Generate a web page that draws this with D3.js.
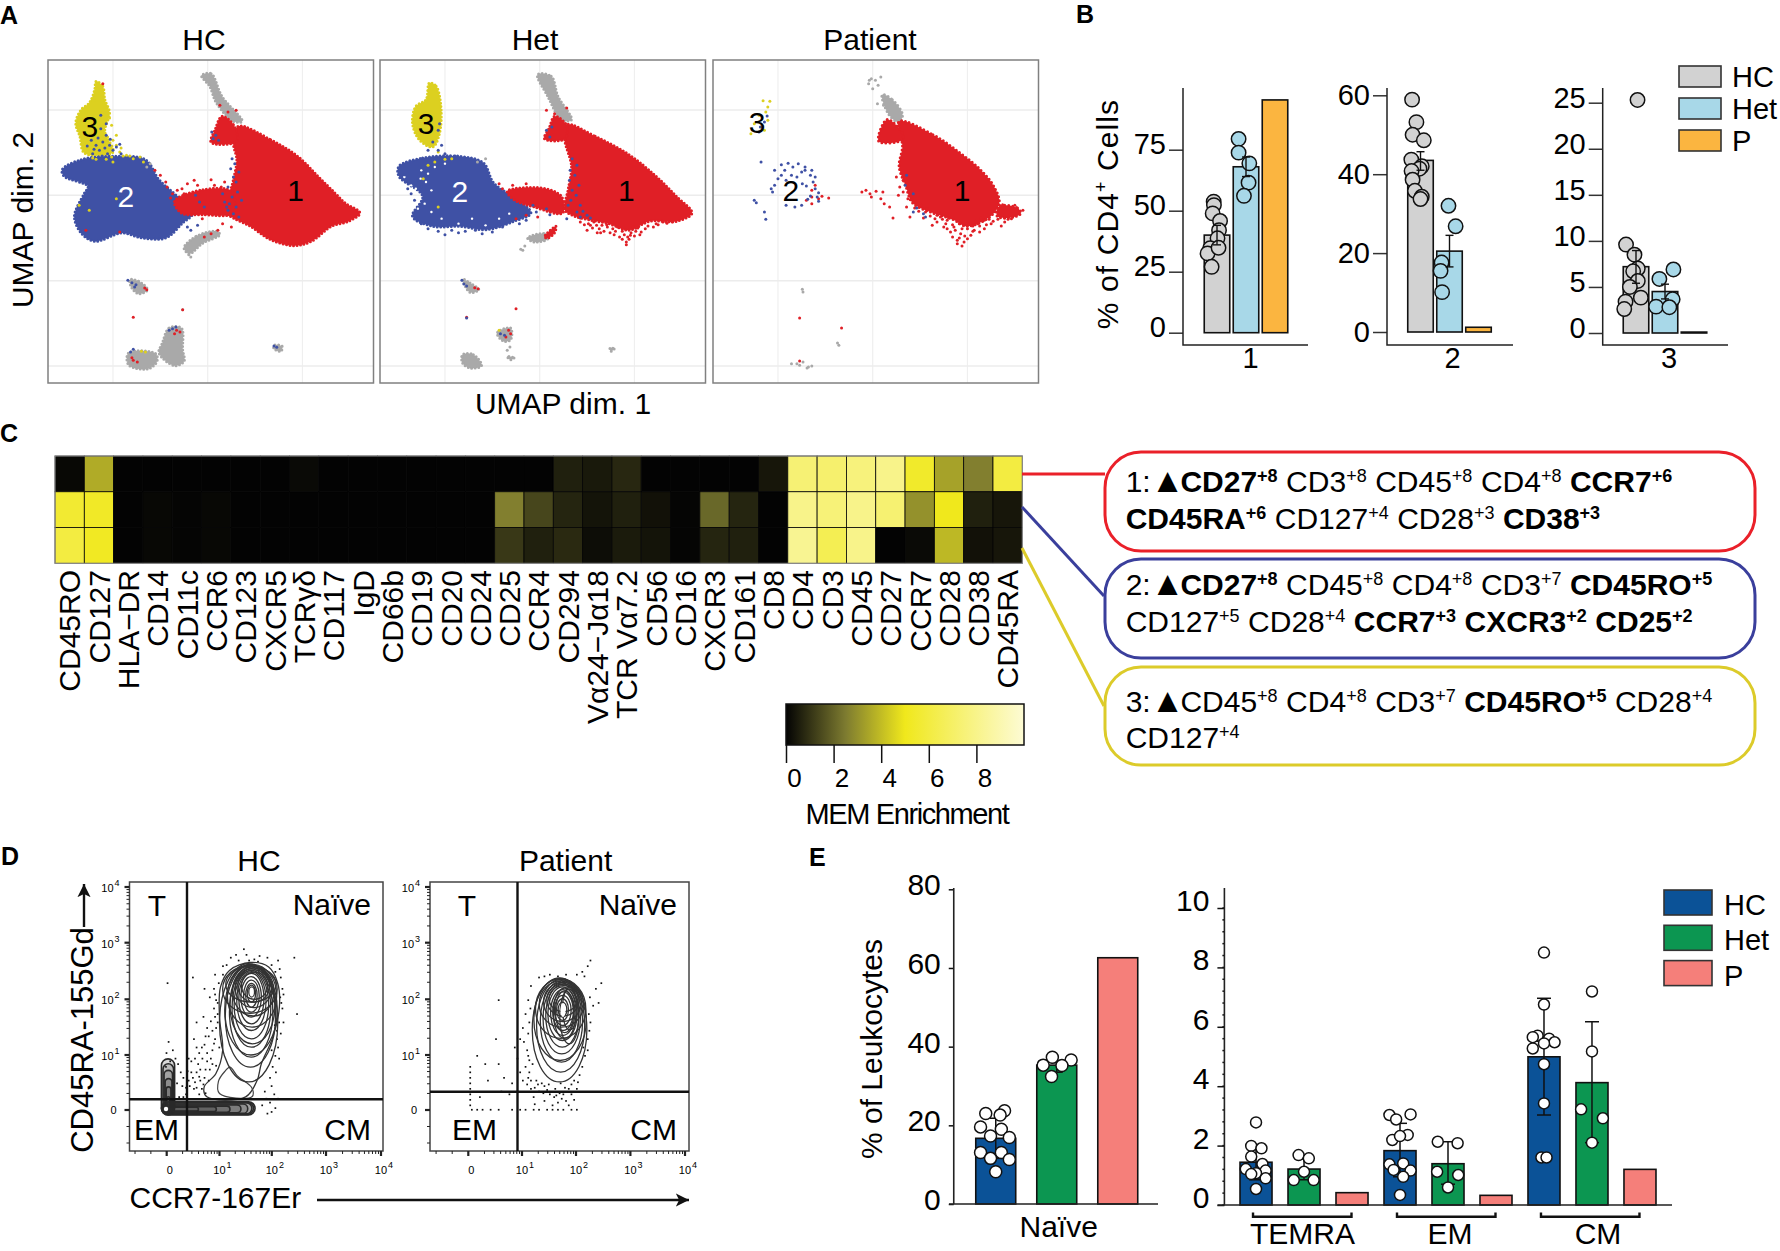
<!DOCTYPE html>
<html>
<head>
<meta charset="utf-8">
<script src="https://cdn.jsdelivr.net/npm/d3@7"></script>
<style>
  body { margin: 0; background: #fff; }
  text { font-family: "Liberation Sans", Arial, sans-serif; fill: #000; }
</style>
</head>
<body>
<svg id="fig" width="1780" height="1251"></svg>
<script>
// ---------- A: UMAP regions, units are arbitrary UMAP coordinates ----------
const umapTitles = ["HC", "Het", "Patient"];

const hcRed = [
  [[45,207],[93,167],[133,117],[163,57],[188,7],[203,-23],[225,-53],[208,-78],[183,-93],[153,-138],[128,-151],[93,-133],[63,-93],[38,-68],[28,-53],[33,7],[38,47],[43,107],[38,157]],
  [[21,237],[38,212],[43,162],[5,159],[11,197]],
  [[-49,-18],[-7,17],[35,12],[38,-53],[-7,-58],[-39,-53]]
];
const hcBlue = [[[-215,77],[-187,107],[-137,117],[-92,107],[-72,47],[-45,-3],[-22,-53],[-37,-83],[-62,-128],[-97,-128],[-127,-113],[-167,-138],[-187,-113],[-197,-63],[-182,7],[-177,27],[-212,57]]];
const hcYellow = [[[-165,342],[-155,327],[-152,287],[-145,247],[-152,192],[-140,130],[-182,127],[-189,177],[-195,217],[-187,257],[-175,277],[-167,317]]];
const hcGrey = [
  [[-9,359],[5,365],[21,297],[51,222],[38,222],[13,277],[3,327]],
  [[-67,-443],[-57,-398],[-39,-398],[-37,-463],[-35,-498],[-49,-511],[-72,-473]],
  [[-117,-473],[-77,-475],[-75,-498],[-89,-521],[-117,-508]],
  [[-35,-158],[-17,-123],[13,-108],[18,-118],[-7,-143],[-27,-175]],
  [[-115,-253],[-102,-258],[-89,-283],[-102,-295],[-112,-278]],
  [[98,-450],[110,-453],[108,-468],[98,-460]]
];
const hcRedDots = [[-30,35],[-20,45],[5,47],[25,40],[-15,30],[-60,25],[-70,60],[-8,-70],[22,-85],[35,-95],[15,-105],[5,-115],[-5,-125],[-130,-110],[-180,-105],[-110,-366],[-37,-343],[-46,-405],[-49,-415],[-41,-410],[-93,-278],[-90,-283],[-110,-495],[-104,-500],[-112,-487],[30,250],[42,255],[18,270],[-155,335],[-45,15],[-52,5],[-38,20],[-62,40],[-78,75],[-55,-8],[20,25],[10,30],[-35,5]];
const hcBlueDots = [[36,110],[40,95],[34,80],[46,70],[38,55],[42,40],[30,25],[44,10],[36,-5],[50,-15],[32,-25],[42,-35],[30,-45],[38,-55],[46,-65],[8,170],[12,180],[6,190],[16,165],[-118,-255],[-112,-262],[-106,-268],[-108,-275],[-52,-400],[-57,-405],[-47,-395],[-110,-462],[-114,-470],[98,-452],[102,-456],[-150,180],[-155,160],[-165,150],[-160,135],[-145,150],[-140,135],[-170,125],[-135,145],[-150,215],[-158,240],[-30,-95],[-25,-105],[-15,-90],[-130,153],[-172,165],[-148,125],[-156,118],[-162,172],[-144,168],[-152,142],[-128,125],[-168,138],[-178,148],[-158,200],[-18,0],[-12,-20],[-5,-35],[25,-20],[22,5],[28,-35]];
const hcYellowDots = [[-120,120],[-100,115],[-110,110],[-140,100],[-150,108],[-170,112],[-95,100],[-175,-45],[-190,-30],[-135,-10],[-92,-470],[-98,-468],[-130,130],[-125,118],[-135,150],[-128,142],[-140,165],[-135,180],[-148,175],[-115,118],[-142,115],[-165,108],[-168,285],[-145,232],[-142,210]];
const hcGreyDots = [[-25,-185],[-28,-178],[-85,95],[-90,85],[-37,-343]];

const hetRed = [
  [[40,212],[82,177],[132,122],[172,57],[202,-3],[225,-53],[202,-78],[162,-78],[132,-105],[102,-85],[72,-73],[52,-63],[37,-43],[42,17],[47,87],[37,167]],
  [[22,237],[40,209],[37,169],[7,170],[14,202]],
  [[-48,12],[2,22],[32,-3],[34,-53],[-8,-35],[-38,-13]],
  [[7,-125],[24,-93],[22,-112],[12,-128]]
];
const hetBlue = [[[-208,87],[-173,112],[-118,117],[-83,97],[-68,37],[-33,-13],[-13,-53],[-38,-78],[-78,-103],[-118,-93],[-158,-93],[-188,-63],[-173,-3],[-208,57]]];
const hetYellow = [[[-163,337],[-153,327],[-146,267],[-148,187],[-158,145],[-178,167],[-188,217],[-183,267],[-168,287]]];
const hetGrey = [
  [[-3,362],[17,357],[27,297],[47,227],[32,227],[12,297]],
  [[-18,-128],[7,-115],[12,-130],[-8,-140]],
  [[-114,-478],[-98,-478],[-86,-511],[-103,-518],[-114,-503]],
  [[-63,-413],[-43,-398],[-43,-433],[-53,-438]],
  [[-48,-483],[-38,-488],[-43,-493]],
  [[-114,-251],[-103,-263],[-90,-283],[-103,-291]],
  [[104,-458],[110,-461],[105,-468]]
];
const hetRedDots = [[60,-80],[75,-90],[88,-100],[100,-95],[112,-108],[125,-118],[132,-132],[140,-122],[150,-110],[160,-92],[175,-88],[188,-84],[70,-105],[85,-112],[95,-108],[118,-125],[128,-140],[135,-112],[145,-98],[108,-100],[62,-20],[-55,20],[-60,35],[-40,30],[-20,35],[10,255],[22,245],[40,262],[-35,-70],[-20,-60],[-3,-65],[-108,-366],[-35,-340],[-46,-405],[-43,-415],[-96,-277],[-91,-280],[-50,-425],
  [66,-88],[80,-80],[92,-90],[104,-112],[115,-95],[122,-108],[138,-95],[155,-82],[168,-95],[182,-80],[196,-80],[78,-98],[90,-112],[110,-118],[122,-132],[130,-125],[148,-118],[156,-100],[172,-85],[142,-108],[99,-88],[84,-90],[60,-68],[72,-85],[128,-148],[134,-120]];
const hetBlueDots = [[48,110],[55,90],[45,75],[52,60],[44,45],[58,30],[48,15],[54,0],[46,-15],[60,-30],[42,-30],[55,-50],[60,-65],[75,-68],[15,175],[10,195],[18,205],[-115,-255],[-112,-266],[-108,-272],[-108,-368],[-58,-415],[-52,-420],[-148,215],[-150,195],[-158,160],[-165,135],[-150,135],[-140,125],[-125,118],[-145,150],[-198,40],[-195,20],[-190,5],[-185,-15],[-200,62],[-180,45],[-175,25],[-30,-85],[-20,-75],[-55,-95],[-70,-110],[-95,-105],[-130,-105],[-150,-108],[-175,-85],[-110,-108],[-85,-115],[-60,-85],[-165,-100],[-120,-112],[-140,-118],[-182,-72],[-10,-30],[-5,-50],[10,-40],[15,-58],[64,-48],[70,-60],[40,-70]];
const hetWhiteDots = [[-190,30],[-183,20],[-176,50],[-165,65],[-200,55],[-168,40],[-160,15],[-180,-5],[-170,-25],[-160,-50],[-145,-70],[-120,-85],[-100,-70],[-80,-90],[-60,-70],[-45,-55],[-175,75],[-155,85],[-140,95],[-180,-40]];
const hetYellowDots = [[-150,130],[-130,110],[-155,100],[-140,108],[-165,90],[-172,50],[-150,-35],[-60,-405]];
const hetGreyDots = [[-80,110],[-92,100],[-28,-162],[-22,-152],[-44,-455],[-48,-465],[-25,-165]];

const patRed = [
  [[39,222],[89,182],[129,127],[159,77],[179,27],[187,-23],[174,-63],[139,-93],[119,-73],[89,-53],[59,-23],[49,27],[39,87],[44,147]],
  [[21,227],[44,187],[44,167],[9,162]],
  [[187,-33],[214,-38],[219,-53],[209,-65],[184,-63]]
];
const patGrey = [[[14,302],[29,287],[44,242],[39,219],[24,242]]];
const patRedDots = [[-16,10],[-10,15],[-4,5],[-2,-5],[5,12],[15,10],[12,-10],[17,-25],[25,-35],[30,-68],[38,0],[50,-35],[55,-65],[75,-68],[80,-40],[95,-80],[105,-95],[120,-95],[130,-115],[125,-135],[135,-140],[145,-120],[150,-105],[165,-100],[175,-85],[190,-92],[195,-80],[110,-75],[88,-90],[100,-65],[115,-110],[140,-100],[155,-85],[165,-75],[185,-72],[200,-72],[40,25],[45,45],[35,55],[-90,-5],[-80,-10],[-75,-3],[-65,-8],[-90,-25],[-98,-15],[-85,30],[-90,15],[-108,-368],[-46,-398],[-108,-497],
  [62,-38],[68,-48],[72,-30],[85,-62],[92,-70],[98,-52],[108,-85],[112,-68],[118,-88],[122,-105],[128,-85],[132,-100],[136,-122],[142,-88],[148,-92],[152,-78],[158,-92],[160,-68],[168,-88],[172,-72],[178,-78],[103,-72],[95,-60],[78,-50],[118,-125],[128,-128],[110,-100],[148,-108],[158,-110],[125,-145],[132,-152],[140,-130],[45,10],[52,-10],[58,-12],[195,-68],[205,-70],[222,-45],[192,-28],[210,-30]];
const patBlueDots = [[-175,-15],[-172,-22],[-160,-50],[-158,-72],[-150,20],[-145,75],[-135,92],[-130,75],[-125,96],[-118,85],[-110,95],[-105,70],[-100,75],[-92,60],[-88,40],[-85,20],[-82,-5],[-80,-18],[-140,50],[-145,30],[-148,10],[-135,60],[-128,45],[-120,60],[-112,55],[-104,35],[-98,28],[-92,-2],[-128,-30],[-115,-35],[-105,-30],[-96,-12],[-100,85],[-90,75],[-85,55],[-80,8],[60,-50],[65,-38],[75,-55],[78,-65],[60,5],[50,60],[48,30],[-165,100],[-160,220],[-156,238],[-166,205],[-168,190]];
const patYellowDots = [[-162,284],[-152,282],[-155,265],[-158,250],[-168,240],[-180,185],[-175,215],[-155,225],[-160,195]];
const patGreyDots = [[-2,350],[4,345],[8,330],[-6,335],[0,320],[-5,345],[12,355],[-104,-282],[-103,-290],[-52,-443],[-50,-450],[-108,-510],[-112,-505],[-103,-500],[-95,-515],[-90,-512],[-97,-518],[-120,-505],[7,275],[16,270],[20,295]];

const hcLabels = [["3",-174,209,"#000"],["2",-121,-3,"#fff"],["1",130,15,"#000"]];
const hetLabels = [["3",-168,217,"#000"],["2",-118,14,"#fff"],["1",128,15,"#000"]];
const patLabels = [["3",-171,219,"#000"],["2",-121,17,"#000"],["1",132,15,"#000"]];

const gridU = [-140, 0, 140];
const gridV = [256, 0, -256, -512];

// ---------- B: % of CD4+ cells ----------
const bGroups = ["HC", "Het", "P"];
const b1Means = [40, 68, 95.4];
const b2Means = [43.5, 20.5, 1.2];
const b3Means = [7.2, 4.5, 0.1];
const b1Errors = [[36, 44], [64, 72], null];
const b2Errors = [[41, 45.7], [16.5, 24.5], null];
const b3Errors = [[5.4, 8.95], [3.7, 5.3], null];
// [value, jitter as a fraction of the bar width]
const b1HC = [[53.7,-.13],[52.3,-.12],[48.9,-.17],[45.8,.12],[42,.08],[38.7,.02],[34.6,-.27],[32.5,-.37],[34.8,.06],[27,-.21]];
const b1Het = [[79.4,-.29],[73.8,-.29],[69.4,.13],[61.5,.1],[56.1,-.08]];
const b2HC = [[58.9,-.33],[53.2,-.16],[50,-.31],[48.6,.13],[43.7,-.36],[42,.05],[41.4,-.04],[40.8,-.35],[38.6,-.31],[35.8,-.22],[34.3,.05],[33.7,0]];
const b2Het = [[32,-.04],[26.8,.24],[17.6,-.31],[15.5,-.35],[10.1,-.29]];
const b3HC = [[25.3,.06],[9.6,-.39],[8.5,-.06],[7,.07],[6.7,-.11],[5.65,.07],[5,-.24],[3.84,.19],[3.4,-.41],[2.6,-.46]];
const b3Het = [[6.9,.33],[5.87,-.22],[3.66,.3],[2.86,-.35],[2.8,.17]];

// ---------- C: MEM heatmap ----------
const markers = ["CD45RO","CD127","HLA\u2212DR","CD14","CD11c","CCR6","CD123","CXCR5","TCR\u03b3\u03b4","CD117","IgD","CD66b","CD19","CD20","CD24","CD25","CCR4","CD294","V\u03b124\u2212J\u03b118","TCR V\u03b17.2","CD56","CD16","CXCR3","CD161","CD8","CD4","CD3","CD45","CD27","CCR7","CD28","CD38","CD45RA"];
const memRow1 = [0.1,3.6,0,0,0,0,0,0,0.15,0,0,0,0,0,0,0,0,0.6,0.45,0.75,0,0,0,0,0.4,7.4,7.2,7.6,8,5.4,3.4,2.6,6];
const memRow2 = [5.6,5.3,0,0.1,0.05,0.1,0,0,0,0,0,0,0,0,0,2.6,1.4,0.7,0.35,0.6,0.3,0.05,2.1,0.7,0,8,7.5,8,7.3,3,5,0.6,0.4];
const memRow3 = [6,5.2,0,0.1,0.05,0.1,0,0,0,0,0,0,0,0,0,1.1,0.6,0.8,0.2,0.5,0.35,0.05,0.7,0.6,0,8.2,6.5,8,0,0.15,3.9,0.3,0.4];
const memTicks = [0, 2, 4, 6, 8];

// [text, superscript, bold]
const box1Lines = [
  [["1:","",0],["\u25b2","",0],["CD27","+8",1],["CD3","+8",0],["CD45","+8",0],["CD4","+8",0],["CCR7","+6",1]],
  [["CD45RA","+6",1],["CD127","+4",0],["CD28","+3",0],["CD38","+3",1]]
];
const box2Lines = [
  [["2:","",0],["\u25b2","",0],["CD27","+8",1],["CD45","+8",0],["CD4","+8",0],["CD3","+7",0],["CD45RO","+5",1]],
  [["CD127","+5",0],["CD28","+4",0],["CCR7","+3",1],["CXCR3","+2",1],["CD25","+2",1]]
];
const box3Lines = [
  [["3:","",0],["\u25b2","",0],["CD45","+8",0],["CD4","+8",0],["CD3","+7",0],["CD45RO","+5",1],["CD28","+4",0]],
  [["CD127","+4",0]]
];

// ---------- D: contour extents in decades, [left, right, bottom, top] ----------
const facsDecades = [0, 1, 2, 3, 4];
const hcNaiveOutline = [[.76,.24],[.71,.42],[.93,.66],[1.06,1.08],[1,1.68],[1.02,2.22],[1.19,2.51],[1.59,2.65],[1.94,2.57],[2.11,2.28],[2.14,1.86],[2.02,1.32],[1.8,.84],[1.72,.54],[1.5,.24]];
const hcNaiveTail = [[1,.3],[.98,.52],[1.1,.7],[1.2,.78],[1.34,.62],[1.62,.4],[1.62,.24]];
const hcNaiveLevels = [[1,2.11,.51,2.63],[1.11,2.07,.78,2.6],[1.19,2.02,.96,2.57],[1.24,1.98,1.14,2.54],[1.28,1.94,1.29,2.51],[1.33,1.89,1.44,2.49],[1.37,1.85,1.56,2.46],[1.41,1.8,1.68,2.4],[1.46,1.76,1.77,2.34],[1.5,1.72,1.86,2.28],[1.53,1.69,1.95,2.25],[1.56,1.67,2.04,2.22],
  [1.15,2.09,1.5,2.62],[1.25,2.04,1.7,2.58],[1.3,2,1.85,2.55],[1.35,1.96,1.95,2.52],[1.42,1.92,2,2.48],[1.2,2.06,1.2,2.59],[1.1,2.1,1,2.61],[1.06,2.1,1.75,2.6],[1.12,2.08,1.95,2.58]];
const hcLowBand = [[-.1,1.68,-.09,.15],[-.08,1.65,-.08,.14],[-.06,1.62,-.07,.13],[-.04,1.54,-.06,.11],[-.03,1.41,-.05,.09],[-.01,1.2,-.04,.07],[.02,.94,-.03,.06],[.04,.6,-.02,.05]];
const hcLowColumn = [[-.1,.15,-.09,.93],[-.07,.13,-.07,.84],[-.05,.11,-.06,.72],[-.03,.1,-.05,.57],[-.01,.08,-.04,.42],[0,.06,-.03,.24]];
const patNaiveLevels = [[1.19,2.2,.51,2.38],[1.27,2.16,.69,2.35],[1.34,2.12,.87,2.32],[1.39,2.08,1.02,2.29],[1.44,2.05,1.14,2.26],[1.48,2.02,1.26,2.22],[1.53,1.98,1.35,2.17],[1.57,1.95,1.44,2.13],[1.6,1.91,1.53,2.07],[1.64,1.86,1.62,2.01],[1.67,1.83,1.68,1.95],
  [1.25,2.18,1.3,2.36],[1.32,2.14,1.5,2.33],[1.4,2.1,1.6,2.3],[1.46,2.06,1.7,2.27],[1.5,2.04,1.78,2.24],[1.58,2,1.3,2.2],[1.62,1.96,1.4,2.15],[1.22,2.19,.9,2.37],[1.7,2.05,1.2,2.18],[1.75,2.02,1.45,2.22]];
const hcFacsDots = [[.45,.9],[.55,.7],[.62,.55],[.7,.6],[.5,.4],[.4,.55],[.35,.3],[.6,.3],[.75,.9],[.8,.75],[.85,1.1],[.7,1.2],[.6,1.05],[.9,1.3],[.95,1.6],[.85,1.45],[.75,1.5],[.68,1.7],[.88,1.85],[.92,2],[.8,2.05],[.7,2.2],[.97,2.3],[.5,1.3],[.55,1.6],[.48,2.4],[.9,2.45],[1.05,2.6],[1.2,2.75],[1.3,2.8],[1.5,2.8],[1.65,2.72],[1.9,2.75],[2.1,2.7],[2.4,2.75],[2.15,2.4],[2.2,2.1],[2.18,1.85],[2.2,1.6],[2.15,1.4],[2.1,1.15],[2.05,1],[2,.8],[1.95,.6],[1.85,.35],[1.95,.15],[1.8,.1],[2.05,.05],[1.9,-.05],[2.1,.22],[2.45,1.75],[0,2.3],[.02,1.25],[-.02,1.05],[.1,1.1],[.15,.95],[.2,.85],[.25,.7],[.28,.45],[.32,.15],[.22,.25],[.05,.9],[-.03,.8],[.4,.95],[.45,.7],[.52,.52],[.58,.85],[.65,.4],[.72,.32],[.78,1.35],[.82,1.62],[.9,1.7],[.95,1.95],[.88,2.2],[.75,1.05],[.66,.95],[2.08,1.3],[2.12,.95],[1.98,1.1],[2.1,1.75],[2.13,2.55],[1.75,2.78],[1.45,2.9],[.3,.6],[.12,.7],[.18,.5],
  [.42,.45],[.48,.6],[.55,.42],[.62,.75],[.68,.48],[.38,.72],[.35,.42],[.3,.25],[.52,.95],[.6,.62],[.72,.75],[.78,.55],[.82,.95],[.88,1.22],[.92,1.5],[.95,1.75],[.9,2.1],[.98,1.15],[.72,1.35],[.65,1.15],[.55,1.15],[.85,.85],[.92,.82],[2.04,1.55],[2.08,1.45],[2.12,1.6],[2.16,1.95],[2.18,2.2],[2.14,2.05],[2.06,.7],[1.98,.45],[1.88,.22],[1.98,-.02],[2.03,.3],[1.05,2.45],[1.12,2.62],[1.35,2.7],[1.55,2.7],[1.72,2.68],[1.98,2.62],[2.05,2.5]];
const patFacsDots = [[1.1,1],[1.05,.8],[.95,.7],[1,.55],[.9,.35],[1.1,.6],[1.15,.4],[1.2,.25],[1.3,.35],[1.4,.45],[1.5,.3],[1.6,.4],[1.7,.5],[1.75,.3],[1.65,.15],[1.85,.4],[1.95,.55],[2,.4],[2.1,.8],[2.15,1],[2.2,1.3],[2.25,1.6],[2.3,1.9],[2.35,2.2],[2.4,1.95],[2.45,2.3],[2.1,2.5],[2.2,2.6],[2.25,2.7],[2,2.45],[1.8,2.45],[1.5,2.45],[1.3,2.4],[1.15,2.25],[1.1,2],[1.05,1.75],[1,1.5],[.95,1.3],[.85,1.15],[.9,.95],[.8,.5],[.75,.3],[.6,.35],[.65,.6],[.55,.85],[.5,1.3],[.55,2],[.35,.55],[.3,.85],[.15,1],[.2,.25],[1.12,.7],[1.18,.85],[1.08,.48],[1.25,.55],[1.35,.5],[1.45,.38],[1.58,.25],[1.72,.22],[1.8,.18],[1.9,.3],[2.05,.65],[2.12,1.15],[2.23,1.45],[1.22,.12],[1.4,.18],[1.55,.1],[1.85,.1],[1.68,.32],[1.95,.2],
  [1.15,.55],[1.22,.42],[1.28,.48],[1.38,.32],[1.48,.48],[1.62,.28],[1.78,.42],[1.9,.48],[2.02,.52],[1.12,.92],[1.08,1.1],[1.02,1.25],[1.1,1.4],[1.12,1.6],[1.14,1.85],[2.2,1.1],[2.22,1.75],[2.24,2.05],[2.14,2.42],[1.65,2.42],[1.4,2.42],
  [.02,.1],[.02,.2],[.02,.3],[.02,.4],[.02,.5],[.02,.6],[.02,.7],[.02,.8],[.05,.02],[.15,.02],[.25,.02],[.4,.02],[.55,.02],[.8,.02],[.95,.02],[1.05,.02],[1.2,.02],[1.3,.02],[1.45,.02],[1.55,.02],[1.65,.02],[1.75,.02],[1.9,.02],[2,.02]];

// ---------- E: % of leukocytes ----------
const eGroups = ["HC", "Het", "P"];
const naiveMeans = [16.7, 35.3, 62.6];
const naiveErrors = [[11.6, 21.8], [33.5, 35.9], null];
const naiveHC = [[23,-.25],[23.7,.22],[22.6,.11],[19.6,-.38],[19,.14],[17.3,-.13],[16.9,.34],[13.1,-.38],[13.1,.14],[11.6,-.13],[11.3,.34],[8.2,0]];
const naiveHet = [[35.3,-.34],[37.3,-.11],[36.6,.36],[35.2,.13],[32.4,-.13]];

const subsetBars = ["TEMRA HC","TEMRA Het","TEMRA P","EM HC","EM Het","EM P","CM HC","CM Het","CM P"];
const subsetMeans = [1.44, 1.21, 0.415, 1.83, 1.39, 0.325, 4.99, 4.12, 1.2];
const subsetErrors = [[.85,2],[.85,1.55],null,[.95,2.75],[.7,2.13],null,[3.03,6.96],[2.1,6.17],null];
const subsetPoints = [
  [[2.78,0],[1.99,-.15],[1.91,.17],[1.63,-.15],[1.38,.2],[1.21,-.32],[1.16,.3],[1.07,0],[1.04,-.15],[.9,.3],[.54,0]],
  [[1.68,-.17],[1.57,.15],[1.12,0],[.84,-.32],[.84,.3]],
  [],
  [[3.03,-.33],[3.05,.33],[2.88,-.12],[2.19,-.24],[2.36,.24],[2.32,0],[1.37,-.33],[1.4,.1],[1.18,-.2],[1.16,.33],[.95,.1],[.34,0]],
  [[2.13,-.32],[2.08,.3],[1.12,-.34],[1.01,.32],[.59,0]],
  [],
  [[8.5,0],[6.75,0],[5.7,-.2],[5.65,-.35],[5.6,.16],[5.48,.33],[5.44,0],[5.27,-.35],[4.74,0],[3.42,0],[1.6,-.08],[1.6,.08]],
  [[7.19,0],[5.17,0],[3.22,-.34],[2.92,.34],[2.1,0]],
  []
];
const subsetGroups = ["TEMRA", "EM", "CM"];
const subsetTicks = [0, 2, 4, 6, 8, 10];

// ---------- colours ----------
const umapColors = { red: "#e01f26", blue: "#3f51a5", yellow: "#dcd020", grey: "#a9a9a9" };
const bColors = ["#d2d2d2", "#a8d8e8", "#fbb540"];
const eColors = ["#0b5297", "#0c9651", "#f57f7a"];

const svg = d3.select("#fig");
const FONT = 30;

function addText(parent, str, x, y, size, opts = {}) {
  return parent.append("text")
    .attr("x", x).attr("y", y)
    .attr("font-size", size)
    .attr("text-anchor", opts.anchor || "start")
    .attr("font-weight", opts.weight || "normal")
    .style("fill", opts.fill || "#000")
    .style("letter-spacing", opts.spacing || null)
    .attr("transform", opts.rotate ? `rotate(${opts.rotate},${x},${y})` : null)
    .text(str);
}

// Panel letters
[["A",0,24],["B",1076,23],["C",0,442],["D",1,865],["E",809,866]].forEach(d =>
  addText(svg, d[0], d[1], d[2], 25, { weight: "bold" }));

// ---------- Panel A ----------
const umapPanels = [
  { x0: 48, titleX: 204, red: hcRed, blue: hcBlue, yellow: hcYellow, grey: hcGrey,
    dots: { grey: hcGreyDots, yellow: hcYellowDots, red: hcRedDots, blue: hcBlueDots }, labels: hcLabels, speckle: 3.5 },
  { x0: 380, titleX: 535, red: hetRed, blue: hetBlue, yellow: hetYellow, grey: hetGrey,
    dots: { grey: hetGreyDots, yellow: hetYellowDots, red: hetRedDots, blue: hetBlueDots }, white: hetWhiteDots, labels: hetLabels, speckle: 3.5 },
  { x0: 713, titleX: 870, red: patRed, blue: [], yellow: [], grey: patGrey,
    dots: { grey: patGreyDots, yellow: patYellowDots, red: patRedDots, blue: patBlueDots }, labels: patLabels, speckle: 4 }
];

const umapW = 325.5, umapTop = 60, umapH = 323;
const uLine = d3.line().curve(d3.curveCatmullRomClosed.alpha(0.5));

umapPanels.forEach((p, i) => {
  const g = svg.append("g").attr("transform", `translate(${p.x0},${umapTop})`);
  const x = d3.scaleLinear().domain([-236, 245]).range([0, umapW]);
  const y = d3.scaleLinear().domain([406, -563]).range([0, umapH]);
  const path = uLine.x(d => x(d[0])).y(d => y(d[1]));

  g.selectAll(".gv").data(gridU).join("line").attr("x1", x).attr("x2", x)
    .attr("y1", 0).attr("y2", umapH).attr("stroke", "#efefef").attr("stroke-width", 1.2);
  g.selectAll(".gh").data(gridV).join("line").attr("y1", y).attr("y2", y)
    .attr("x1", 0).attr("x2", umapW).attr("stroke", "#ececec").attr("stroke-width", 1.5);

  ["grey", "yellow", "blue", "red"].forEach(key => {
    g.append("g").selectAll("path").data(p[key]).join("path")
      .attr("d", path)
      .attr("fill", umapColors[key])
      .attr("stroke", umapColors[key])
      .attr("stroke-width", 3)
      .attr("stroke-linecap", "round")
      .attr("stroke-dasharray", `0 ${p.speckle}`);
  });

  if (p.white) {
    g.append("g").selectAll("circle").data(p.white).join("circle")
      .attr("cx", d => x(d[0])).attr("cy", d => y(d[1])).attr("r", 1.2).attr("fill", "#fff");
  }
  ["grey", "yellow", "red", "blue"].forEach(key => {
    g.append("g").selectAll("circle").data(p.dots[key]).join("circle")
      .attr("cx", d => x(d[0])).attr("cy", d => y(d[1])).attr("r", 1.5)
      .attr("fill", umapColors[key]);
  });

  g.selectAll(".lab").data(p.labels).join("text")
    .attr("x", d => x(d[1])).attr("y", d => y(d[2]) + 11)
    .attr("text-anchor", "middle").attr("font-size", FONT)
    .style("fill", d => d[3]).text(d => d[0]);

  g.append("rect").attr("width", umapW).attr("height", umapH)
    .attr("fill", "none").attr("stroke", "#808080").attr("stroke-width", 1.5);

  addText(svg, umapTitles[i], p.titleX, 50, FONT, { anchor: "middle" });
});

addText(svg, "UMAP dim. 1", 563, 414, FONT, { anchor: "middle" });
addText(svg, "UMAP dim. 2", 33, 220, FONT, { anchor: "middle", rotate: -90 });

// ---------- bar helper for panels B and E ----------
function drawBars(g, opt) {
  const { x, y, cats, means, errors, colors, strokeW, r, points, errFirst } = opt;
  g.selectAll(".bar").data(cats).join("rect")
    .attr("x", x)
    .attr("y", (c, i) => y(means[i]))
    .attr("width", x.bandwidth())
    .attr("height", (c, i) => y(0) - y(means[i]))
    .attr("fill", (c, i) => colors[i % colors.length])
    .attr("stroke", "#111").attr("stroke-width", strokeW);

  const drawErr = () => cats.forEach((c, i) => {
    if (!errors[i]) return;
    const cx = x(c) + x.bandwidth() / 2;
    const e = g.append("g").attr("stroke", "#111").attr("stroke-width", opt.errW || 1.5);
    e.append("line").attr("x1", cx).attr("x2", cx).attr("y1", y(errors[i][0])).attr("y2", y(errors[i][1]));
    errors[i].forEach(v => e.append("line")
      .attr("x1", cx - opt.cap).attr("x2", cx + opt.cap).attr("y1", y(v)).attr("y2", y(v)));
  });
  if (errFirst) drawErr();
  cats.forEach((c, i) => {
    const cx = x(c) + x.bandwidth() / 2;
    g.append("g").selectAll("circle").data(points[i] || []).join("circle")
      .attr("cx", d => cx + d[1] * x.bandwidth())
      .attr("cy", d => y(d[0]))
      .attr("r", r)
      .attr("fill", opt.pointFill ? opt.pointFill : colors[i])
      .attr("stroke", "#111").attr("stroke-width", 1.5);
  });
  if (!errFirst) drawErr();
}

function styleAxis(sel, size, dy, color) {
  sel.select(".domain").remove();
  sel.selectAll(".tick line").attr("stroke", color || "#333").attr("stroke-width", 1.5);
  sel.selectAll(".tick text").attr("font-size", size).attr("dy", dy)
    .style("font-family", '"Liberation Sans", Arial, sans-serif').style("fill", "#000");
}

// ---------- Panel B ----------
const bPanels = [
  { axisX: 1183, endX: 1308, band: [1202.5, 1289.5], yDomain: [0, 75], yRange: [332.7, 149.7], ticks: [0,25,50,75],
    means: b1Means, errors: b1Errors, points: [b1HC, b1Het], label: "1", labelX: 1250.5, dy: "0.12em" },
  { axisX: 1387, endX: 1513, band: [1406, 1493], yDomain: [0, 60], yRange: [332, 95.3], ticks: [0,20,40,60],
    means: b2Means, errors: b2Errors, points: [b2HC, b2Het], label: "2", labelX: 1452.6, dy: "0.32em" },
  { axisX: 1602.7, endX: 1728, band: [1621.5, 1708.5], yDomain: [0, 25], yRange: [333, 102.7], ticks: [0,5,10,15,20,25],
    means: b3Means, errors: b3Errors, points: [b3HC, b3Het], label: "3", labelX: 1669, dy: "0.16em" }
];

bPanels.forEach(p => {
  const g = svg.append("g");
  const y = d3.scaleLinear().domain(p.yDomain).range(p.yRange);
  const x = d3.scaleBand().domain(bGroups).range(p.band).paddingInner(0.12).paddingOuter(0.06);
  g.append("g").attr("transform", `translate(${p.axisX},0)`)
    .call(d3.axisLeft(y).tickValues(p.ticks).tickSize(14).tickPadding(3))
    .call(styleAxis, 29, p.dy);
  drawBars(g, { x, y, cats: bGroups, means: p.means, errors: p.errors, colors: bColors,
    strokeW: 1.6, r: 7.2, points: p.points, cap: 4, errW: 1.4 });
  g.append("path").attr("d", `M${p.axisX},88V345H${p.endX}`)
    .attr("fill", "none").attr("stroke", "#222").attr("stroke-width", 1.5);
  addText(g, p.label, p.labelX, 368, 29, { anchor: "middle" });
});

const bYLab = addText(svg, "% of CD4", 1118, 214, 30, { anchor: "middle", rotate: -90, spacing: "1.1px" });
bYLab.append("tspan").attr("font-size", 18).attr("dy", -11).text("+");
bYLab.append("tspan").attr("dy", 11).text(" Cells");

const legB = svg.append("g");
bGroups.forEach((name, i) => {
  legB.append("rect").attr("x", 1679).attr("y", 66 + i * 32).attr("width", 42).attr("height", 21)
    .attr("fill", bColors[i]).attr("stroke", "#333").attr("stroke-width", 1.6);
  addText(legB, name, 1732, 87 + i * 32, 29);
});

// ---------- Panel C ----------
const memRows = [memRow1, memRow2, memRow3];
const heatX = d3.scaleBand().domain(markers).range([55, 1022.3]);
const heatY = d3.scaleBand().domain([0, 1, 2]).range([456, 563.3]);
const memColor = d3.scaleLinear().domain([0, 2.5, 5, 10]).range(["#030303", "#7d7b30", "#f0e81c", "#fdfbd4"]);

const heat = svg.append("g");
memRows.forEach((row, r) => {
  heat.selectAll(`.r${r}`).data(row).join("rect")
    .attr("x", (v, i) => heatX(markers[i]))
    .attr("y", heatY(r))
    .attr("width", heatX.bandwidth())
    .attr("height", heatY.bandwidth())
    .attr("fill", v => memColor(v))
    .attr("stroke", "#050505").attr("stroke-width", 0.8);
});
heat.append("rect").attr("x", 55).attr("y", 456).attr("width", 967.3).attr("height", 107.3)
  .attr("fill", "none").attr("stroke", "#999").attr("stroke-width", 1);

heat.selectAll(".mk").data(markers).join("text")
  .attr("transform", d => `translate(${heatX(d) + heatX.bandwidth() / 2 + 10.8},570) rotate(-90)`)
  .attr("text-anchor", "end").attr("font-size", 30).text(d => d);

// colour bar
const cbX = d3.scaleLinear().domain([0, 10]).range([786, 1024]);
const defs = svg.append("defs");
const grad = defs.append("linearGradient").attr("id", "memGrad");
[0, 2.5, 5, 7.5, 10].forEach(v => grad.append("stop")
  .attr("offset", `${v * 10}%`).attr("stop-color", memColor(v)));
svg.append("rect").attr("x", 786).attr("y", 704).attr("width", 238).attr("height", 41)
  .attr("fill", "url(#memGrad)").attr("stroke", "#111").attr("stroke-width", 1.5);
const cbAxis = svg.append("g").attr("transform", "translate(0,745)")
  .call(d3.axisBottom(cbX).tickValues(memTicks).tickSize(18).tickPadding(6));
cbAxis.select(".domain").remove();
cbAxis.selectAll(".tick line").attr("stroke", "#111").attr("stroke-width", 1.5);
cbAxis.selectAll(".tick text").attr("font-size", 26).attr("dx", 8)
  .style("font-family", '"Liberation Sans", Arial, sans-serif').style("fill", "#000");
addText(svg, "MEM Enrichment", 907, 824, 29, { anchor: "middle", spacing: "-1.4px" });

// connectors and callouts
const calloutBoxes = [
  { top: 452, h: 99, color: "#ea2029", lines: box1Lines, base: [492, 529], from: [1022, 474], to: [1105, 474] },
  { top: 559, h: 99, color: "#3a3f9c", lines: box2Lines, base: [595, 632], from: [1022, 507], to: [1104, 596] },
  { top: 667, h: 98, color: "#dccb2a", lines: box3Lines, base: [712, 748], from: [1022, 548], to: [1104, 706] }
];
calloutBoxes.forEach(b => {
  svg.append("line").attr("x1", b.from[0]).attr("y1", b.from[1]).attr("x2", b.to[0]).attr("y2", b.to[1])
    .attr("stroke", b.color).attr("stroke-width", 3);
  svg.append("rect").attr("x", 1105).attr("y", b.top).attr("width", 650).attr("height", b.h)
    .attr("rx", 36).attr("ry", 36).attr("fill", "#fff").attr("stroke", b.color).attr("stroke-width", 3);
  b.lines.forEach((line, li) => {
    const t = svg.append("text").attr("x", 1125.7).attr("y", b.base[li]).attr("font-size", 30);
    line.forEach((tok, k) => {
      let gap = 8.5;
      if (k === 0) gap = 0;
      else if (tok[0] === "\u25b2") gap = 0;
      else if (line[k - 1][0] === "\u25b2") gap = -4;
      t.append("tspan").text(tok[0]).attr("font-weight", tok[2] ? "bold" : "normal")
        .attr("font-size", tok[0] === "\u25b2" ? 34 : 30)
        .attr("dx", gap)
        .attr("dy", k > 0 && line[k - 1][1] ? 10 : 0);
      if (tok[1]) {
        t.append("tspan").text(tok[1]).attr("font-size", 18).attr("dy", -10)
          .attr("font-weight", tok[2] ? "bold" : "normal");
      }
    });
  });
});

// ---------- Panel D ----------
const facsPanels = [
  { left: 129.5, right: 383, title: "HC", titleX: 259, xRange: [166.7, 219.5, 271.8, 326, 381], gateX: 187, gateY: 1099.3,
    dots: hcFacsDots, tLab: 157, emLab: 134, naive: 371 },
  { left: 430, right: 689, title: "Patient", titleX: 565.6, xRange: [468.3, 522, 576, 630.4, 685], gateX: 517.5, gateY: 1091.7,
    dots: patFacsDots, tLab: 467, emLab: 452, naive: 677 }
];
const facsY = d3.scaleLinear().domain(facsDecades).range([1110, 1055, 999.3, 942.7, 887]);
const minorSteps = [2, 3, 4, 5, 6, 7, 8, 9];

function contourEllipse(g, x, levels, color) {
  g.append("g").selectAll("ellipse").data(levels).join("ellipse")
    .attr("cx", d => (x(d[0]) + x(d[1])) / 2)
    .attr("cy", d => (facsY(d[2]) + facsY(d[3])) / 2)
    .attr("rx", d => (x(d[1]) - x(d[0])) / 2)
    .attr("ry", d => (facsY(d[2]) - facsY(d[3])) / 2)
    .attr("fill", "none").attr("stroke", color).attr("stroke-width", 1.3);
}
function contourPill(g, x, levels) {
  g.append("g").selectAll("rect").data(levels).join("rect")
    .attr("x", d => x(d[0])).attr("y", d => facsY(d[3]))
    .attr("width", d => x(d[1]) - x(d[0]))
    .attr("height", d => facsY(d[2]) - facsY(d[3]))
    .attr("rx", d => Math.min(x(d[1]) - x(d[0]), facsY(d[2]) - facsY(d[3])) / 2)
    .attr("fill", "#333").attr("fill-opacity", 0.18)
    .attr("stroke", "#2a2a2a").attr("stroke-width", 1.6);
}

facsPanels.forEach(p => {
  const g = svg.append("g");
  const x = d3.scaleLinear().domain(facsDecades).range(p.xRange);

  g.append("g").selectAll("rect").data(p.dots).join("rect")
    .attr("x", d => x(d[0])).attr("y", d => facsY(d[1]))
    .attr("width", 1.7).attr("height", 1.7).attr("fill", "#111");

  if (p.title === "HC") {
    const outline = d3.line().curve(d3.curveCatmullRomClosed).x(d => x(d[0])).y(d => facsY(d[1]));
    g.append("path").attr("d", outline(hcNaiveOutline)).attr("fill", "none").attr("stroke", "#333").attr("stroke-width", 1.3);
    g.append("path").attr("d", outline(hcNaiveTail)).attr("fill", "none").attr("stroke", "#444").attr("stroke-width", 1.2);
    contourEllipse(g, x, hcNaiveLevels, "#333");
    contourPill(g, x, hcLowBand);
    contourPill(g, x, hcLowColumn);
  } else {
    contourEllipse(g, x, patNaiveLevels, "#333");
  }

  // frame and gates
  g.append("rect").attr("x", p.left).attr("y", 882).attr("width", p.right - p.left).attr("height", 269)
    .attr("fill", "none").attr("stroke", "#444").attr("stroke-width", 1.5);
  g.append("line").attr("x1", p.gateX).attr("x2", p.gateX).attr("y1", 882).attr("y2", 1151)
    .attr("stroke", "#111").attr("stroke-width", 2.4);
  g.append("line").attr("x1", p.left).attr("x2", p.right).attr("y1", p.gateY).attr("y2", p.gateY)
    .attr("stroke", "#111").attr("stroke-width", 2.4);

  // log ticks on both axes
  const minors = [];
  facsDecades.slice(0, -1).forEach(dc => minorSteps.forEach(m => minors.push(dc + Math.log10(m))));
  [-0.6, -0.3].forEach(v => minors.push(v));
  const ink = "#222";
  g.append("g").selectAll("line").data(minors.filter(v => facsY(v) < 1151)).join("line")
    .attr("x1", p.left - 3).attr("x2", p.left).attr("y1", facsY).attr("y2", facsY)
    .attr("stroke", ink).attr("stroke-width", 1);
  g.append("g").selectAll("line").data(facsDecades).join("line")
    .attr("x1", p.left - 5).attr("x2", p.left).attr("y1", facsY).attr("y2", facsY)
    .attr("stroke", ink).attr("stroke-width", 2.2);
  g.append("g").selectAll("line").data(minors.filter(v => x(v) > p.left)).join("line")
    .attr("x1", x).attr("x2", x).attr("y1", 1151).attr("y2", 1154)
    .attr("stroke", ink).attr("stroke-width", 1);
  g.append("g").selectAll("line").data(facsDecades).join("line")
    .attr("x1", x).attr("x2", x).attr("y1", 1151).attr("y2", 1156)
    .attr("stroke", ink).attr("stroke-width", 2.2);

  // tick labels
  facsDecades.forEach(dc => {
    const ty = addText(g, dc === 0 ? "0" : "10", p.left - (dc === 0 ? 16 : 19), facsY(dc) + (dc === 0 ? 4 : 5), 11, { anchor: "middle" });
    if (dc > 0) ty.append("tspan").attr("dy", -6).attr("font-size", 9).attr("dx", 1).text(dc);
    const tx = addText(g, dc === 0 ? "0" : "10", x(dc) + 3, 1174, 11, { anchor: "middle" });
    if (dc > 0) tx.append("tspan").attr("dy", -6).attr("font-size", 9).attr("dx", 1).text(dc);
  });

  addText(g, p.title, p.titleX, 871, FONT, { anchor: "middle" });
  addText(g, "T", p.tLab, 916, FONT, { anchor: "middle" });
  addText(g, "Na\u00efve", p.naive, 915, FONT, { anchor: "end" });
  addText(g, "EM", p.emLab, 1140, FONT);
  addText(g, "CM", p.naive, 1140, FONT, { anchor: "end" });
});

// white centre of the two densest contours
svg.append("circle").attr("cx", 166).attr("cy", 1109).attr("r", 2.2).attr("fill", "#fff");
svg.append("ellipse").attr("cx", 563).attr("cy", 1010).attr("rx", 2.5).attr("ry", 7).attr("fill", "#fff");

addText(svg, "CD45RA-155Gd", 93, 1040, 31, { anchor: "middle", rotate: -90 });
addText(svg, "CCR7-167Er", 129.5, 1208, FONT);
defs.append("marker").attr("id", "arr").attr("viewBox", "0 0 10 10").attr("refX", 10).attr("refY", 5)
  .attr("markerWidth", 5.5).attr("markerHeight", 5.5).attr("orient", "auto")
  .append("path").attr("d", "M0,0L10,5L0,10L2.5,5Z").attr("fill", "#111");
svg.append("line").attr("x1", 84).attr("y1", 927).attr("x2", 84).attr("y2", 884)
  .attr("stroke", "#111").attr("stroke-width", 2.4).attr("marker-end", "url(#arr)");
svg.append("line").attr("x1", 317).attr("y1", 1200).attr("x2", 689).attr("y2", 1200)
  .attr("stroke", "#111").attr("stroke-width", 2.4).attr("marker-end", "url(#arr)");

// ---------- Panel E ----------
const eLeft = svg.append("g");
const yNaive = d3.scaleLinear().domain([0, 80]).range([1204, 889.3]);
const xNaive = d3.scaleBand().domain(eGroups).range([966, 1147.5]).paddingInner(0.345).paddingOuter(0.16);
eLeft.append("g").attr("transform", "translate(953.75,0)")
  .call(d3.axisLeft(yNaive).tickValues([0, 20, 40, 60, 80]).tickSize(5).tickPadding(8))
  .call(styleAxis, 30, "0.18em", "#111");
drawBars(eLeft, { x: xNaive, y: yNaive, cats: eGroups, means: naiveMeans, errors: naiveErrors, colors: eColors,
  strokeW: 1.6, r: 6, points: [naiveHC, naiveHet], cap: 6, pointFill: "#fff", errFirst: true });
eLeft.append("path").attr("d", "M949,1204H1158M953.75,1204V888").attr("stroke", "#222").attr("stroke-width", 1.6).attr("fill", "none");
addText(eLeft, "Na\u00efve", 1058.7, 1237, FONT, { anchor: "middle" });
addText(svg, "% of Leukocytes", 882, 1049, FONT, { anchor: "middle", rotate: -90 });

const eRight = svg.append("g");
const ySub = d3.scaleLinear().domain([0, 10]).range([1205, 908]);
const xSub = d3.scaleBand().domain(subsetBars).range([1232, 1664]).paddingInner(0.333).paddingOuter(0.167);
eRight.append("g").attr("transform", "translate(1224.4,0)")
  .call(d3.axisLeft(ySub).tickValues(subsetTicks).tickSize(7).tickPadding(8))
  .call(styleAxis, 30, "0.08em", "#111");
eRight.append("g").selectAll("line").data(d3.range(0, 10.01, 0.4)).join("line")
  .attr("x1", 1222.4).attr("x2", 1224.4).attr("y1", ySub).attr("y2", ySub)
  .attr("stroke", "#111").attr("stroke-width", 1.5);
drawBars(eRight, { x: xSub, y: ySub, cats: subsetBars, means: subsetMeans, errors: subsetErrors,
  colors: eColors, strokeW: 1.6, r: 5.5, points: subsetPoints, cap: 7, pointFill: "#fff", errFirst: true });
eRight.append("path").attr("d", "M1217.5,1205H1672M1224.4,1205V888").attr("stroke", "#222").attr("stroke-width", 1.6).attr("fill", "none");

subsetGroups.forEach((name, i) => {
  const x1 = xSub(subsetBars[i * 3]) + 13, x2 = xSub(subsetBars[i * 3 + 2]) + 15.5;
  eRight.append("path").attr("d", `M${x1},1212.5V1216.7H${x2}V1212.5`)
    .attr("fill", "none").attr("stroke", "#111").attr("stroke-width", 2.4);
  addText(eRight, name, [1302.5, 1450, 1598][i], 1244, FONT, { anchor: "middle" });
});

const legE = svg.append("g");
eGroups.forEach((name, i) => {
  legE.append("rect").attr("x", 1664).attr("y", 890 + i * 35.3).attr("width", 48).attr("height", 25)
    .attr("fill", eColors[i]).attr("stroke", "#333").attr("stroke-width", 1.6);
  addText(legE, name, 1724, 915 + i * 35.3, 29);
});
</script>
</body>
</html>
